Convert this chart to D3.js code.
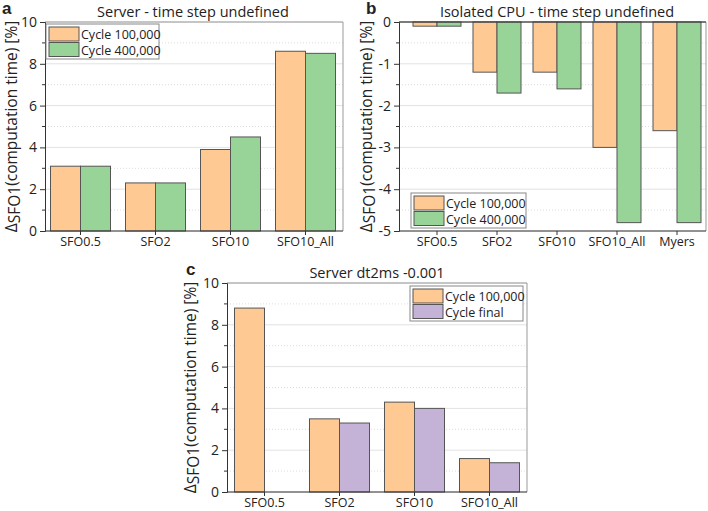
<!DOCTYPE html>
<html>
<head>
<meta charset="utf-8">
<script src="https://cdn.jsdelivr.net/npm/d3@7"></script>
<style>
  body { margin: 0; background: #fff; }
  text { font-family: "Open Sans", "Noto Sans", sans-serif; fill: #222; }
</style>
</head>
<body>
<script>
var catsA = ["SFO0.5", "SFO2", "SFO10", "SFO10_All"];
var a100 = [3.1, 2.3, 3.9, 8.6];
var a400 = [3.1, 2.3, 4.5, 8.5];

var catsB = ["SFO0.5", "SFO2", "SFO10", "SFO10_All", "Myers"];
var b100 = [-0.1, -1.2, -1.2, -3.0, -2.6];
var b400 = [-0.1, -1.7, -1.6, -4.8, -4.8];

var catsC = ["SFO0.5", "SFO2", "SFO10", "SFO10_All"];
var c100 = [8.8, 3.5, 4.3, 1.6];
var cFinal = [null, 3.3, 4.0, 1.4];

var ticksPos = [0, 2, 4, 6, 8, 10];
var ticksNeg = [0, -1, -2, -3, -4, -5];

var orange = "#ffc993", green = "#98d498", purple = "#c4b2d7";

var svg = d3.select("body").append("svg").attr("width", 708).attr("height", 511);

function panel(o) {
  var g = svg.append("g");
  var y = d3.scaleLinear().domain(o.dom).range([o.y1, o.y0]);
  var x = d3.scaleBand().domain(o.cats).range(o.band);

  // minor grid (dotted)
  g.selectAll(".mg").data(o.minor).enter().append("line")
    .attr("x1", o.x0).attr("x2", o.x1)
    .attr("y1", function (d) { return y(d); }).attr("y2", function (d) { return y(d); })
    .attr("stroke", "#ddd").attr("stroke-dasharray", "1,2");
  // major grid
  g.selectAll(".Mg").data(o.ticks).enter().append("line")
    .attr("x1", o.x0).attr("x2", o.x1)
    .attr("y1", function (d) { return y(d); }).attr("y2", function (d) { return y(d); })
    .attr("stroke", "#e2e2e2");

  // frame
  g.append("path")
    .attr("d", "M" + o.x0 + "," + o.y0 + "H" + o.x1 + "V" + o.y1)
    .attr("fill", "none").attr("stroke", "#999");

  // bars
  var series = [{ v: o.s1, c: orange }, { v: o.s2, c: o.c2 }];
  series.forEach(function (s, k) {
    var rows = s.v.map(function (d, i) { return { c: o.cats[i], v: d }; })
      .filter(function (r) { return r.v !== null; });
    g.selectAll(".b" + k).data(rows).enter().append("rect")
      .attr("x", function (r) { return x(r.c) + x.bandwidth() / 2 - o.bw + k * o.bw; })
      .attr("width", o.bw)
      .attr("y", function (r) { return Math.min(y(r.v), y(0)); })
      .attr("height", function (r) { return Math.abs(y(r.v) - y(0)); })
      .attr("fill", s.c).attr("stroke", "#555").attr("stroke-width", 1);
  });

  // y axis
  var ya = g.append("g").attr("transform", "translate(" + o.x0 + ",0)")
    .call(d3.axisLeft(y).tickValues(o.ticks).tickSize(5).tickFormat(function (d) { return String(d); }));
  ya.select(".domain").attr("stroke", "#333");
  ya.selectAll(".tick line").attr("stroke", "#333");
  ya.selectAll(".tick text").attr("font-size", 14).attr("font-family", "Open Sans").attr("fill", "#222");
  g.selectAll(".mt").data(o.minor).enter().append("line")
    .attr("x1", o.x0 - 3).attr("x2", o.x0)
    .attr("y1", function (d) { return y(d); }).attr("y2", function (d) { return y(d); })
    .attr("stroke", "#333");

  // x axis
  var xa = g.append("g").attr("transform", "translate(0," + o.y1 + ")")
    .call(d3.axisBottom(x).tickSize(4).tickSizeOuter(0));
  xa.select(".domain").attr("d", "M" + o.x0 + ",0H" + o.x1).attr("stroke", "#333");
  xa.selectAll(".tick line").attr("stroke", "#333");
  xa.selectAll(".tick text").attr("font-size", 12.5).attr("font-family", "Open Sans").attr("fill", "#222")
    .attr("y", 15).attr("dy", 0);
  if (o.dom[1] === 0) {
    g.append("line").attr("x1", o.x0).attr("x2", o.x1).attr("y1", y(0)).attr("y2", y(0)).attr("stroke", "#333");
  }

  // title and letter
  g.append("text").attr("x", o.tx).attr("y", o.y0 - 5)
    .attr("text-anchor", "middle").attr("font-size", 14.5).text(o.title);
  g.append("text").attr("x", o.lx).attr("y", o.y0 - 8)
    .attr("font-size", 17).attr("font-weight", "bold")
    .style("font-family", "Liberation Sans, Arial, sans-serif").text(o.letter);

  // y label
  var yl = g.append("text")
    .attr("transform", "translate(" + o.ylx + "," + ((o.y0 + o.y1) / 2) + ") rotate(-90)")
    .attr("text-anchor", "middle").attr("font-size", 15.5);
  yl.append("tspan").text("Δ");
  yl.append("tspan").attr("baseline-shift", "-20%").text("SFO1");
  yl.append("tspan").attr("baseline-shift", "0").text("(computation time) [%]");

  // legend
  var L = o.leg;
  var lg = g.append("g");
  lg.append("rect").attr("x", L[0]).attr("y", L[1]).attr("width", L[2]).attr("height", 35)
    .attr("fill", "#fff").attr("stroke", "#888");
  [[orange, o.n1], [o.c2, o.n2]].forEach(function (it, i) {
    lg.append("rect").attr("x", L[0] + 3).attr("y", L[1] + 3 + i * 15.5).attr("width", 30).attr("height", 14)
      .attr("fill", it[0]).attr("stroke", "#555");
    lg.append("text").attr("x", L[0] + 35).attr("y", L[1] + 15 + i * 15.5)
      .attr("font-size", 12.5).text(it[1]);
  });
}

panel({
  cats: catsA, s1: a100, s2: a400, c2: green, n1: "Cycle 100,000", n2: "Cycle 400,000",
  dom: [0, 10], ticks: ticksPos, minor: [1, 3, 5, 7, 9],
  x0: 45, x1: 343, y0: 22, y1: 231, band: [43, 343], bw: 30, tx: 193,
  title: "Server - time step undefined", letter: "a", lx: 2, ylx: 17, leg: [46, 24, 113]
});

panel({
  cats: catsB, s1: b100, s2: b400, c2: green, n1: "Cycle 100,000", n2: "Cycle 400,000",
  dom: [-5, 0], ticks: ticksNeg, minor: [-0.5, -1.5, -2.5, -3.5, -4.5],
  x0: 399, x1: 706, y0: 22, y1: 231, band: [407, 707], bw: 24, tx: 557,
  title: "Isolated CPU - time step undefined", letter: "b", lx: 366, ylx: 372, leg: [411, 193, 115]
});

panel({
  cats: catsC, s1: c100, s2: cFinal, c2: purple, n1: "Cycle 100,000", n2: "Cycle final",
  dom: [0, 10], ticks: ticksPos, minor: [1, 3, 5, 7, 9],
  x0: 227, x1: 527, y0: 283, y1: 492, band: [227, 527], bw: 30, tx: 377,
  title: "Server dt2ms -0.001", letter: "c", lx: 186, ylx: 196, leg: [410, 286, 113]
});
</script>
</body>
</html>
